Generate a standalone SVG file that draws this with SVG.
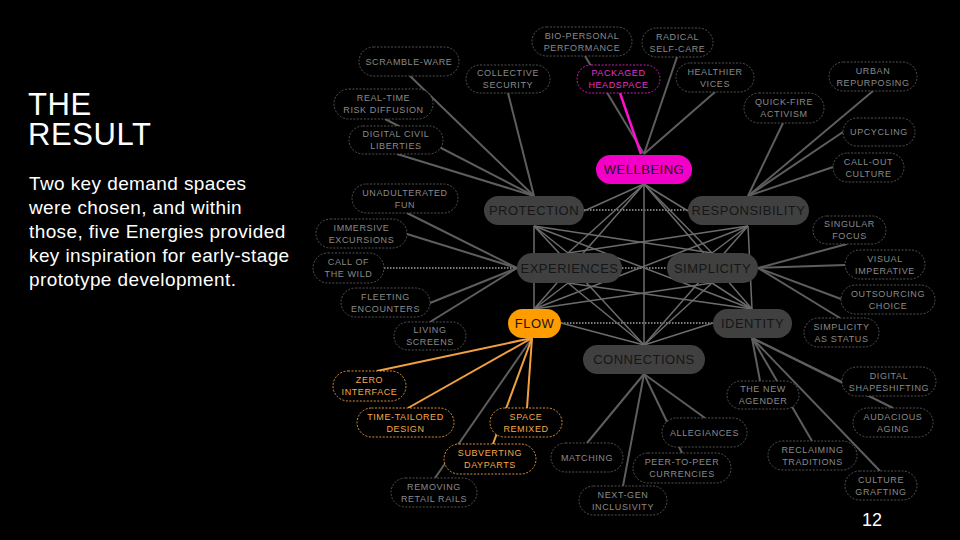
<svg xmlns="http://www.w3.org/2000/svg" width="960" height="540" viewBox="0 0 960 540">
<style>
text{font-family:"Liberation Sans",Arial,sans-serif}
.o rect{fill:#000;stroke:#5a5a5a;stroke-width:0.9;stroke-dasharray:2 1.5}
.o text{fill:#8a8a8a;font-size:9px;letter-spacing:0.6px;text-anchor:middle}
.or rect{stroke:#f0a040}
.or text{fill:#f5a848}
.mg rect{stroke:#e020c0}
.mg text{fill:#e830c8}
.m rect{fill:#404040}
.m text{fill:#161616;font-size:13px;letter-spacing:0.5px;text-anchor:middle}
.c line{stroke:#5e5e5e;stroke-width:2}
.mesh line{stroke:#6c6c6c;stroke-width:1.5}
.c line.dot,.mesh line.dot{stroke:#7a7a7a;stroke-width:2;stroke-dasharray:1.5 1.5}
.c line.org{stroke:#f0a040}
.c line.mag{stroke:#ff10d0;stroke-width:2.5}
</style>
<rect width="960" height="540" fill="#000"/>
<g id="title">
<text fill="#fff" font-size="31" letter-spacing="0.6"><tspan x="28" y="115">THE</tspan><tspan x="28" y="145">RESULT</tspan></text>
<text fill="#fff" font-size="19" letter-spacing="0.4"><tspan x="29" y="190">Two key demand spaces</tspan><tspan x="29" y="214">were chosen, and within</tspan><tspan x="29" y="238">those, five Energies provided</tspan><tspan x="29" y="262">key inspiration for early-stage</tspan><tspan x="29" y="286">prototype development.</tspan></text>
</g>
<g id="connectors">
<g class="mesh">
<line class="dot" x1="584" y1="210" x2="688" y2="210"/>
<line class="dot" x1="622" y1="268" x2="667" y2="268"/>
<line class="dot" x1="561" y1="323" x2="713" y2="323"/>
<line x1="644" y1="184" x2="584" y2="211"/>
<line x1="644" y1="184" x2="688" y2="211"/>
<line x1="644" y1="184" x2="568" y2="253"/>
<line x1="644" y1="184" x2="712" y2="253"/>
<line x1="644" y1="184" x2="534" y2="309"/>
<line x1="644" y1="184" x2="752" y2="309"/>
<line x1="644" y1="184" x2="644" y2="345"/>
<line x1="534" y1="226" x2="568" y2="253"/>
<line x1="534" y1="226" x2="712" y2="253"/>
<line x1="534" y1="226" x2="534" y2="309"/>
<line x1="534" y1="226" x2="752" y2="309"/>
<line x1="534" y1="226" x2="644" y2="345"/>
<line x1="748" y1="226" x2="568" y2="253"/>
<line x1="748" y1="226" x2="712" y2="253"/>
<line x1="748" y1="226" x2="534" y2="309"/>
<line x1="748" y1="226" x2="752" y2="309"/>
<line x1="748" y1="226" x2="644" y2="345"/>
<line x1="568" y1="283" x2="534" y2="309"/>
<line x1="568" y1="283" x2="752" y2="309"/>
<line x1="568" y1="283" x2="644" y2="345"/>
<line x1="712" y1="283" x2="534" y2="309"/>
<line x1="712" y1="283" x2="752" y2="309"/>
<line x1="712" y1="283" x2="644" y2="345"/>
<line x1="561" y1="323" x2="644" y2="345"/>
<line x1="713" y1="323" x2="644" y2="345"/>
</g>
<g class="c">
<line x1="585" y1="56" x2="644" y2="154"/>
<line x1="677" y1="57" x2="644" y2="154"/>
<line x1="715" y1="92" x2="644" y2="154"/>
<line class="mag" x1="620" y1="93" x2="641" y2="154"/>
<line x1="508" y1="93" x2="534" y2="196"/>
<line x1="410" y1="76" x2="534" y2="196"/>
<line x1="385" y1="119" x2="534" y2="196"/>
<line x1="397" y1="154" x2="534" y2="196"/>
<line x1="873" y1="91" x2="748" y2="196"/>
<line x1="783" y1="123" x2="748" y2="196"/>
<line x1="843" y1="132" x2="748" y2="196"/>
<line x1="833" y1="167" x2="748" y2="196"/>
<line x1="407" y1="213" x2="517" y2="268"/>
<line x1="407" y1="234" x2="517" y2="268"/>
<line class="dot" x1="384" y1="268" x2="517" y2="268"/>
<line x1="430" y1="303" x2="517" y2="268"/>
<line x1="430" y1="322" x2="517" y2="268"/>
<line x1="847" y1="244" x2="758" y2="268"/>
<line x1="845" y1="265" x2="758" y2="268"/>
<line x1="841" y1="299" x2="758" y2="268"/>
<line x1="840" y1="318" x2="758" y2="268"/>
<line x1="842" y1="382" x2="752" y2="338"/>
<line x1="893" y1="408" x2="752" y2="338"/>
<line x1="760" y1="381" x2="752" y2="338"/>
<line x1="812" y1="441" x2="752" y2="338"/>
<line x1="880" y1="471" x2="752" y2="338"/>
<line x1="705" y1="418" x2="644" y2="374"/>
<line x1="682" y1="453" x2="644" y2="374"/>
<line x1="587" y1="443" x2="644" y2="374"/>
<line x1="623" y1="486" x2="644" y2="374"/>
<line x1="435" y1="478" x2="532" y2="338"/>
<line class="org" x1="377" y1="371" x2="532" y2="338"/>
<line class="org" x1="408" y1="408" x2="532" y2="338"/>
<line class="org" x1="527" y1="408" x2="532" y2="338"/>
<line class="org" x1="493" y1="444" x2="532" y2="338"/>
</g>
</g>
<g id="wellbeing" class="m"><rect x="596" y="155" width="96" height="29" rx="14.5" style="fill:#f200c8"/><text x="644" y="174">WELLBEING</text></g>
<g id="protection" class="m"><rect x="484" y="196" width="100" height="29" rx="14.5"/><text x="534" y="215">PROTECTION</text></g>
<g id="responsibility" class="m"><rect x="688" y="196" width="121" height="29" rx="14.5"/><text x="748.5" y="215">RESPONSIBILITY</text></g>
<g id="experiences" class="m"><rect x="517" y="253" width="105" height="30" rx="15"/><text x="569.5" y="273">EXPERIENCES</text></g>
<g id="simplicity" class="m"><rect x="667" y="253" width="91" height="30" rx="15"/><text x="712.5" y="273">SIMPLICITY</text></g>
<g id="flow" class="m"><rect x="508" y="309" width="53" height="29" rx="14.5" style="fill:#ff9c00"/><text x="534.5" y="328">FLOW</text></g>
<g id="identity" class="m"><rect x="713" y="309" width="79" height="29" rx="14.5"/><text x="752.5" y="328">IDENTITY</text></g>
<g id="connections" class="m"><rect x="583" y="345" width="122" height="29" rx="14.5"/><text x="644" y="364">CONNECTIONS</text></g>

<g id="bio-personal" class="o"><rect x="532" y="27" width="100" height="29" rx="14.5"/><text x="582" y="39">BIO-PERSONAL</text><text x="582" y="51">PERFORMANCE</text></g>
<g id="radical" class="o"><rect x="642" y="28" width="71" height="29" rx="14.5"/><text x="677.5" y="40">RADICAL</text><text x="677.5" y="52">SELF-CARE</text></g>
<g id="packaged" class="o mg"><rect x="577" y="65" width="83" height="28" rx="14"/><text x="618.5" y="76">PACKAGED</text><text x="618.5" y="88">HEADSPACE</text></g>
<g id="healthier" class="o"><rect x="676" y="63" width="78" height="29" rx="14.5"/><text x="715" y="75">HEALTHIER</text><text x="715" y="87">VICES</text></g>
<g id="collective" class="o"><rect x="466" y="65" width="84" height="28" rx="14"/><text x="508" y="76">COLLECTIVE</text><text x="508" y="88">SECURITY</text></g>
<g id="scramble" class="o"><rect x="359" y="47" width="100" height="29" rx="14.5"/><text x="409" y="65">SCRAMBLE-WARE</text></g>
<g id="realtime" class="o"><rect x="334" y="89" width="99" height="30" rx="15"/><text x="383.5" y="101">REAL-TIME</text><text x="383.5" y="113">RISK DIFFUSION</text></g>
<g id="digitalcivil" class="o"><rect x="349" y="126" width="94" height="28" rx="14"/><text x="396" y="137">DIGITAL CIVIL</text><text x="396" y="149">LIBERTIES</text></g>
<g id="urban" class="o"><rect x="829" y="62" width="88" height="29" rx="14.5"/><text x="873" y="74">URBAN</text><text x="873" y="86">REPURPOSING</text></g>
<g id="quickfire" class="o"><rect x="744" y="93" width="80" height="30" rx="15"/><text x="784" y="105">QUICK-FIRE</text><text x="784" y="117">ACTIVISM</text></g>
<g id="upcycling" class="o"><rect x="843" y="118" width="72" height="28" rx="14"/><text x="879" y="135">UPCYCLING</text></g>
<g id="callout" class="o"><rect x="833" y="153" width="71" height="29" rx="14.5"/><text x="868.5" y="165">CALL-OUT</text><text x="868.5" y="177">CULTURE</text></g>
<g id="unadulterated" class="o"><rect x="352" y="184" width="106" height="29" rx="14.5"/><text x="405" y="196">UNADULTERATED</text><text x="405" y="208">FUN</text></g>
<g id="immersive" class="o"><rect x="316" y="219" width="91" height="29" rx="14.5"/><text x="361.5" y="231">IMMERSIVE</text><text x="361.5" y="243">EXCURSIONS</text></g>
<g id="callwild" class="o"><rect x="313" y="253" width="71" height="30" rx="15"/><text x="348.5" y="265">CALL OF</text><text x="348.5" y="277">THE WILD</text></g>
<g id="fleeting" class="o"><rect x="341" y="288" width="89" height="29" rx="14.5"/><text x="385.5" y="300">FLEETING</text><text x="385.5" y="312">ENCOUNTERS</text></g>
<g id="living" class="o"><rect x="394" y="322" width="72" height="28" rx="14"/><text x="430" y="333">LIVING</text><text x="430" y="345">SCREENS</text></g>
<g id="singular" class="o"><rect x="813" y="216" width="73" height="28" rx="14"/><text x="849.5" y="227">SINGULAR</text><text x="849.5" y="239">FOCUS</text></g>
<g id="visual" class="o"><rect x="845" y="250" width="80" height="29" rx="14.5"/><text x="885" y="262">VISUAL</text><text x="885" y="274">IMPERATIVE</text></g>
<g id="outsourcing" class="o"><rect x="841" y="285" width="94" height="29" rx="14.5"/><text x="888" y="297">OUTSOURCING</text><text x="888" y="309">CHOICE</text></g>
<g id="simpstatus" class="o"><rect x="804" y="318" width="75" height="29" rx="14.5"/><text x="841.5" y="330">SIMPLICITY</text><text x="841.5" y="342">AS STATUS</text></g>
<g id="shapeshifting" class="o"><rect x="842" y="367" width="94" height="29" rx="14.5"/><text x="889" y="379">DIGITAL</text><text x="889" y="391">SHAPESHIFTING</text></g>
<g id="audacious" class="o"><rect x="853" y="408" width="80" height="29" rx="14.5"/><text x="893" y="420">AUDACIOUS</text><text x="893" y="432">AGING</text></g>
<g id="agender" class="o"><rect x="727" y="381" width="72" height="28" rx="14"/><text x="763" y="392">THE NEW</text><text x="763" y="404">AGENDER</text></g>
<g id="reclaiming" class="o"><rect x="768" y="441" width="89" height="29" rx="14.5"/><text x="812.5" y="453">RECLAIMING</text><text x="812.5" y="465">TRADITIONS</text></g>
<g id="grafting" class="o"><rect x="845" y="471" width="72" height="29" rx="14.5"/><text x="881" y="483">CULTURE</text><text x="881" y="495">GRAFTING</text></g>
<g id="allegiances" class="o"><rect x="662" y="418" width="85" height="29" rx="14.5"/><text x="704.5" y="436">ALLEGIANCES</text></g>
<g id="peer" class="o"><rect x="633" y="453" width="98" height="30" rx="15"/><text x="682" y="465">PEER-TO-PEER</text><text x="682" y="477">CURRENCIES</text></g>
<g id="matching" class="o"><rect x="551" y="443" width="72" height="29" rx="14.5"/><text x="587" y="461">MATCHING</text></g>
<g id="nextgen" class="o"><rect x="579" y="486" width="88" height="29" rx="14.5"/><text x="623" y="498">NEXT-GEN</text><text x="623" y="510">INCLUSIVITY</text></g>
<g id="zero" class="o or"><rect x="333" y="371" width="73" height="30" rx="15"/><text x="369.5" y="383">ZERO</text><text x="369.5" y="395">INTERFACE</text></g>
<g id="timetailored" class="o or"><rect x="357" y="408" width="97" height="29" rx="14.5"/><text x="405.5" y="420">TIME-TAILORED</text><text x="405.5" y="432">DESIGN</text></g>
<g id="spaceremixed" class="o or"><rect x="490" y="408" width="72" height="29" rx="14.5"/><text x="526" y="420">SPACE</text><text x="526" y="432">REMIXED</text></g>
<g id="subverting" class="o or"><rect x="444" y="444" width="92" height="30" rx="15"/><text x="490" y="456">SUBVERTING</text><text x="490" y="468">DAYPARTS</text></g>
<g id="removing" class="o"><rect x="391" y="478" width="86" height="29" rx="14.5"/><text x="434" y="490">REMOVING</text><text x="434" y="502">RETAIL RAILS</text></g>
<text x="872" y="526" fill="#fff" font-size="18" text-anchor="middle">12</text>
</svg>
